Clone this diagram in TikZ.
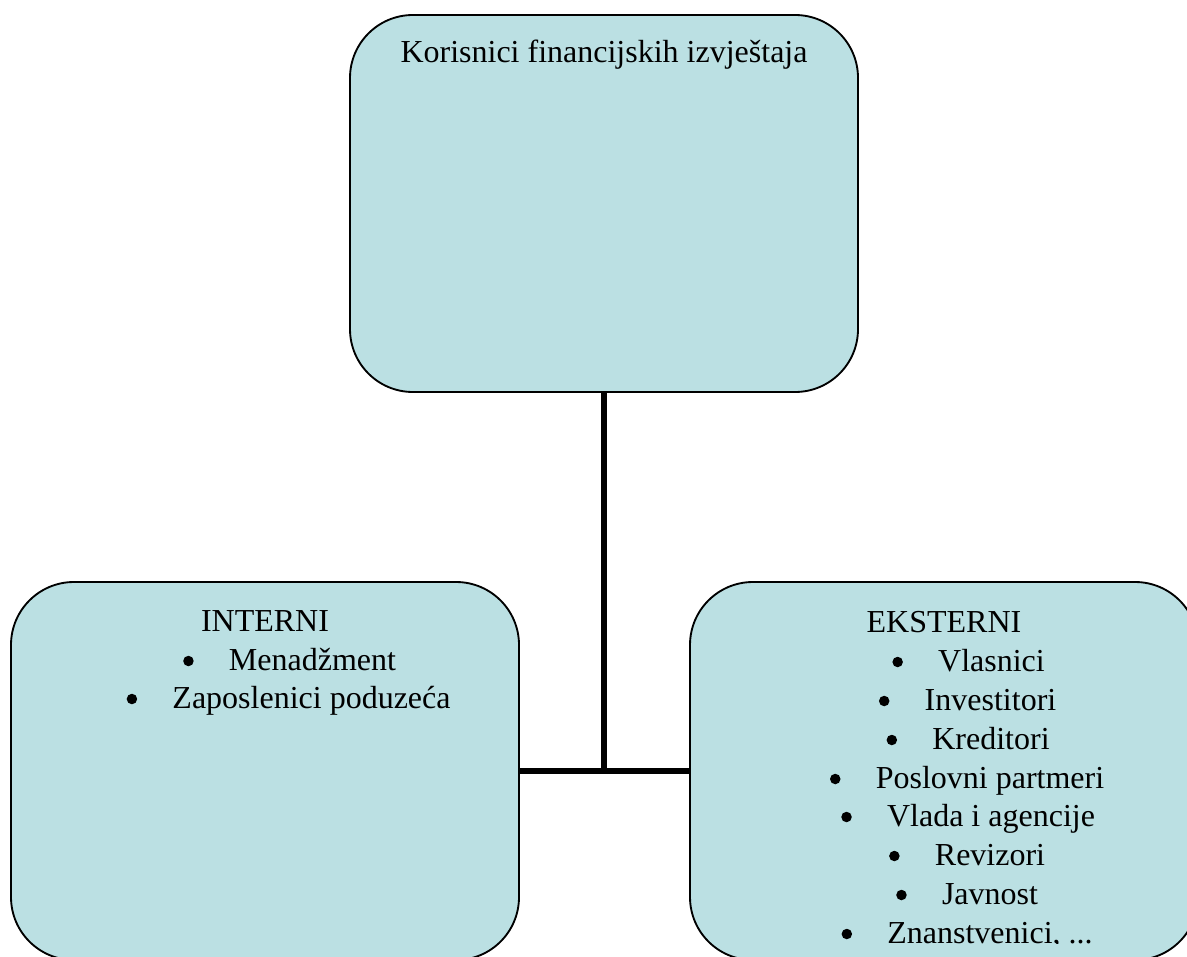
\documentclass[tikz,border=0pt]{standalone}
\usepackage{fontspec}
\setmainfont{Liberation Serif}
\definecolor{boxfill}{HTML}{BBE0E3}
\def\px{0.375pt}
\tikzset{
  box/.style={rectangle, draw=black, line width=0.7pt, fill=boxfill,
    rounded corners=23.6pt, inner sep=0pt},
  conn/.style={draw=black, line width=1.9pt},
  txt/.style={anchor=base, inner sep=0pt, font=\fontsize{12}{14.6}\selectfont},
  bul/.style={circle, fill=black, inner sep=0pt, minimum size=10.5*\px}
}
\newcommand{\bulletfor}[2]{\node[bul] (#1) at ([shift={(-40,-9)}]#2.base west) {};}
\begin{document}
\begin{tikzpicture}[x=0.375pt, y=-0.375pt]
\useasboundingbox (0,0) rectangle (1187,956);
\fill[white] (0,0) rectangle (1187,956);
\clip (0,0) rectangle (1187,956);

% boxes
\node[box, minimum width=508*\px, minimum height=377*\px] (top) at (604,203.5) {};
\node[box, minimum width=508*\px, minimum height=378*\px] (left) at (265,771) {};
\node[box, minimum width=508*\px, minimum height=378*\px] (right) at (944,771) {};

% connectors
\coordinate (j) at (top.south |- left.east);
\draw[conn] (top.south) -- (j);
\draw[conn] (left.east) -- (right.west);

% title
\node[txt] (title) at (604,63) {Korisnici financijskih izvještaja};

% internal
\node[txt] (int) at (265,631) {INTERNI};
\node[txt] (i1) at (312.5,670) {Menadžment};
\node[txt] (i2) at (311.5,708) {Zaposlenici poduzeća};
\bulletfor{bi1}{i1}
\bulletfor{bi2}{i2}

% external
\node[txt] (ext) at (944,632) {EKSTERNI};
\node[txt] (e1) at (991.5,671) {Vlasnici};
\node[txt] (e2) at (990.5,710) {Investitori};
\node[txt] (e3) at (991,749) {Kreditori};
\node[txt] (e4) at (990,788) {Poslovni partmeri};
\node[txt] (e5) at (991,826) {Vlada i agencije};
\node[txt] (e6) at (990,865) {Revizori};
\node[txt] (e7) at (990,904) {Javnost};
\bulletfor{be1}{e1}
\bulletfor{be2}{e2}
\bulletfor{be3}{e3}
\bulletfor{be4}{e4}
\bulletfor{be5}{e5}
\bulletfor{be6}{e6}
\bulletfor{be7}{e7}
\begin{scope}
  \clip (690,582) rectangle (1198,943);
  \node[txt] (e8) at (990,943) {Znanstvenici, ...};
  \bulletfor{be8}{e8}
\end{scope}
\end{tikzpicture}
\end{document}
